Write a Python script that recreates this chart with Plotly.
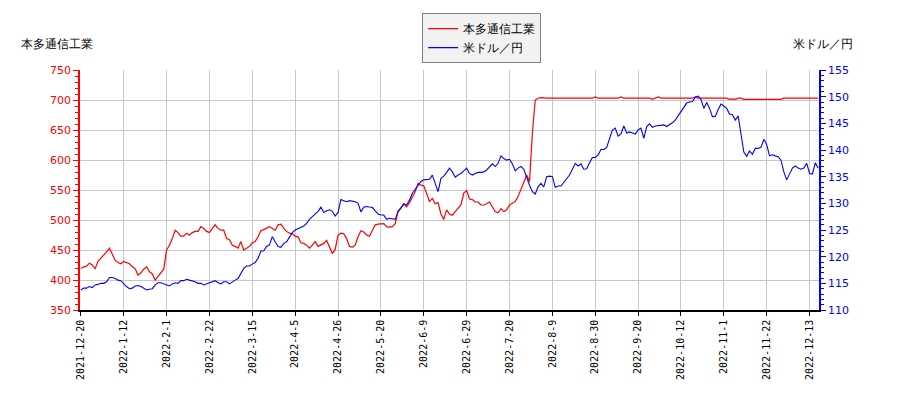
import plotly.graph_objects as go

# 軸ラベル（15営業日ごと）
tick_labels = ["2021-12-20", "2022-1-12", "2022-2-1", "2022-2-22", "2022-3-15", "2022-4-5",
               "2022-4-26", "2022-5-20", "2022-6-9", "2022-6-29", "2022-7-20", "2022-8-9",
               "2022-8-30", "2022-9-20", "2022-10-12", "2022-11-1", "2022-11-22", "2022-12-13"]
tick_step = 15

# 本多通信工業 株価（円）
stock = [419, 422, 423, 428, 425, 419, 431, 436, 442, 447, 453, 444, 433, 429, 427, 431, 429, 427, 422, 419,
         408, 412, 418, 422, 414, 410, 400, 406, 411, 418, 450, 458, 469, 483, 479, 473, 473, 478, 475, 479,
         481, 481, 489, 486, 481, 479, 486, 492, 486, 483, 483, 469, 467, 458, 456, 453, 464, 450, 453, 456,
         462, 464, 472, 482, 484, 486, 489, 486, 483, 492, 493, 486, 481, 478, 477, 473, 472, 462, 461, 458,
         453, 458, 464, 456, 458, 461, 466, 456, 444, 451, 475, 478, 477, 469, 456, 455, 458, 472, 482, 480,
         475, 473, 483, 492, 493, 493, 494, 489, 488, 489, 494, 515, 520, 527, 522, 529, 539, 547, 561, 558,
         557, 545, 531, 536, 527, 529, 510, 501, 517, 510, 508, 514, 519, 525, 545, 549, 535, 534, 530, 530,
         525, 525, 527, 530, 522, 514, 512, 519, 514, 517, 525, 528, 531, 539, 550, 562, 575, 564, 645, 700,
         703, 704, 703, 703, 703, 703, 703, 704, 703, 703, 703, 703, 703, 703, 704, 703, 703, 703, 703, 703,
         705, 703, 703, 703, 703, 703, 704, 703, 703, 705, 703, 703, 703, 703, 703, 704, 703, 703, 703, 703,
         701, 703, 705, 703, 703, 703, 703, 703, 703, 703, 703, 704, 703, 703, 703, 705, 703, 703, 703, 703,
         703, 703, 703, 703, 703, 703, 703, 701, 702, 701, 703, 703, 701, 701, 701, 701, 701, 701, 701, 701,
         701, 701, 701, 701, 701, 701, 703, 703, 703, 703, 703, 703, 703, 703, 703, 703, 703, 703, 703]

# 米ドル／円
usdjpy = [113.75, 114.1, 114.1, 114.4, 114.2, 114.7, 114.8, 115.0, 115.0, 115.3,
          116.1, 116.1, 115.9, 115.6, 115.5, 114.9, 114.4, 114.0, 114.1, 114.5,
          114.6, 114.4, 114.1, 113.75, 113.9, 114.0, 114.7, 115.1, 115.1, 114.9,
          114.7, 114.5, 114.9, 115.1, 115.0, 115.5, 115.5, 115.75, 115.6, 115.5,
          115.3, 115.0, 115.0, 114.7, 114.9, 115.1, 115.3, 115.5, 115.1, 114.9,
          115.3, 115.3, 114.9, 115.3, 115.6, 115.9, 117.0, 117.8, 118.25, 118.25,
          118.6, 118.9, 119.7, 121.0, 121.1, 121.9, 122.2, 123.75, 122.8, 121.9,
          121.75, 122.5, 122.8, 123.75, 124.5, 125.0, 125.3, 125.5, 125.75, 126.25,
          127.0, 127.5, 128.0, 128.5, 129.3, 128.3, 128.6, 128.8, 128.5, 127.6,
          128.3, 130.7, 130.5, 130.3, 130.5, 130.4, 130.3, 130.0, 128.4, 129.25,
          129.4, 129.3, 129.25, 128.6, 128.0, 127.8, 127.8, 127.0, 127.2, 127.1,
          127.0, 128.4, 129.2, 129.9, 129.7, 130.6, 131.9, 132.6, 133.4, 134.1,
          134.4, 134.4, 134.5, 135.3, 133.75, 132.2, 134.7, 135.1, 135.8, 136.6,
          135.9, 134.9, 135.3, 135.6, 136.1, 136.6, 135.6, 135.3, 135.6, 135.8,
          135.8, 135.9, 136.25, 136.8, 137.4, 136.9, 137.5, 138.9, 138.4, 138.1,
          138.25, 137.4, 136.1, 136.6, 136.9, 136.4, 134.7, 133.4, 132.2, 131.75,
          133.1, 133.75, 133.1, 135.0, 135.1, 135.0, 133.0, 133.25, 133.25, 133.9,
          134.5, 135.3, 136.4, 137.5, 137.0, 137.4, 136.4, 136.5, 137.6, 138.6,
          138.6, 139.1, 140.1, 140.1, 140.5, 142.2, 143.75, 144.1, 142.6, 143.0,
          144.5, 143.2, 143.4, 143.2, 143.0, 143.75, 144.1, 142.2, 144.4, 144.9,
          144.25, 144.5, 144.6, 144.7, 144.7, 144.4, 144.7, 145.1, 145.6, 146.4,
          147.0, 148.0, 148.8, 149.0, 149.1, 149.9, 150.1, 149.5, 147.8, 148.9,
          147.8, 146.25, 146.3, 147.6, 148.6, 148.25, 147.8, 146.75, 146.6, 145.6,
          146.4, 143.0, 139.6, 138.8, 139.8, 139.2, 140.3, 140.3, 140.5, 142.0,
          141.0, 138.9, 139.1, 138.9, 138.75, 138.1, 135.9, 134.4, 135.5, 136.6,
          137.0, 136.6, 136.4, 136.6, 137.5, 135.6, 135.5, 137.6, 136.6]

x = list(range(len(stock)))
tick_vals = [i * tick_step for i in range(len(tick_labels))]

fig = go.Figure()
fig.add_trace(go.Scatter(x=x, y=stock, name="本多通信工業", mode="lines",
                         line=dict(color="red", width=1.2)))
fig.add_trace(go.Scatter(x=list(range(len(usdjpy))), y=usdjpy, name="米ドル／円", mode="lines",
                         line=dict(color="blue", width=1.1), yaxis="y2"))

grid = "#c8c8c8"
# the page body has an 8px margin, so the figure is 8px smaller and margins shifted
fig.update_layout(
    width=892, height=392,
    margin=dict(l=72, r=81, t=62, b=90, autoexpand=False),
    plot_bgcolor="white", paper_bgcolor="white",
    font=dict(family="DejaVu Sans", size=11, color="black"),
    showlegend=True,
    legend=dict(x=0.531, y=0.987, xref="container", yref="container",
                xanchor="center", yanchor="top",
                bgcolor="#f2f2f2", bordercolor="#808080", borderwidth=1,
                font=dict(size=12), itemwidth=30, tracegroupgap=0),
    xaxis=dict(range=[-0.3, len(stock) - 0.7], tickvals=tick_vals, ticktext=tick_labels,
               tickangle=-90, tickfont=dict(family="DejaVu Sans Mono", size=10),
               showgrid=True, gridcolor=grid, gridwidth=1, automargin=False,
               showline=True, linecolor="black", linewidth=1.5,
               ticks="outside", ticklen=4, tickcolor="black", zeroline=False),
    yaxis=dict(range=[350, 750], dtick=50, showgrid=True, gridcolor=grid, gridwidth=1,
               showline=True, linecolor="red", linewidth=1.5, automargin=False,
               ticks="outside", ticklen=5, tickcolor="red",
               tickfont=dict(color="red", size=11), zeroline=False,
               minor=dict(dtick=10, ticks="outside", ticklen=3, tickcolor="red", showgrid=False)),
    yaxis2=dict(range=[110, 155], dtick=5, overlaying="y", side="right",
                showgrid=False, showline=True, linecolor="blue", linewidth=1.5, automargin=False,
                ticks="outside", ticklen=5, tickcolor="blue",
                tickfont=dict(color="blue", size=11), zeroline=False,
                minor=dict(dtick=1, ticks="outside", ticklen=3, tickcolor="blue")),
)

fig.add_annotation(text="本多通信工業", x=-0.031, y=1.11, xref="paper", yref="paper",
                   xanchor="center", yanchor="middle", showarrow=False, font=dict(size=12))
fig.add_annotation(text="米ドル／円", x=1.006, y=1.11, xref="paper", yref="paper",
                   xanchor="center", yanchor="middle", showarrow=False, font=dict(size=12))

fig.write_html("out.html")
